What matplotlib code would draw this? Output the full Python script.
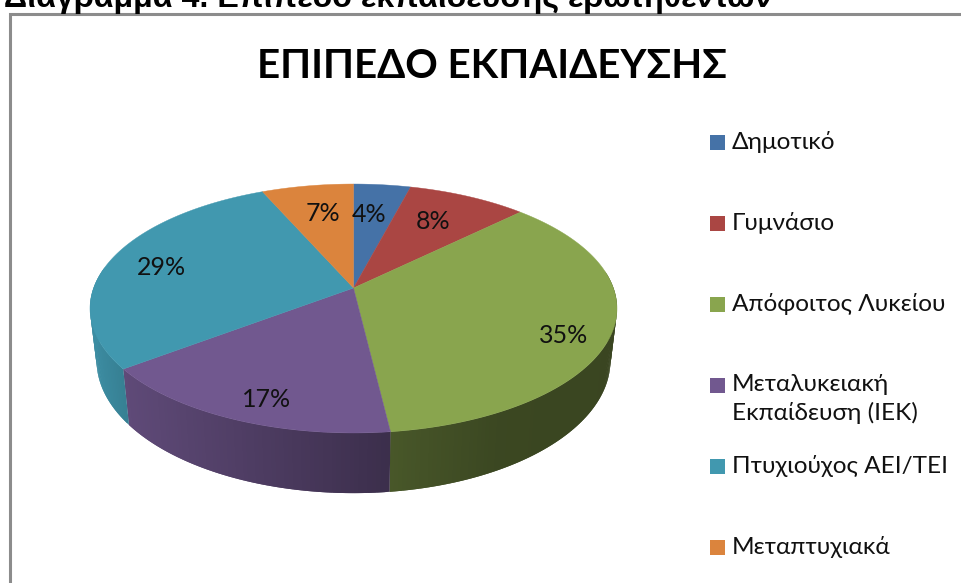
import numpy as np
import matplotlib
matplotlib.use("Agg")
import matplotlib.pyplot as plt
from matplotlib.patches import Rectangle

categories = ["Δημοτικό", "Γυμνάσιο", "Απόφοιτος Λυκείου",
              "Μεταλυκειακή\nΕκπαίδευση (ΙΕΚ)", "Πτυχιούχος ΑΕΙ/ΤΕΙ", "Μεταπτυχιακά"]
values = [4.1, 8.6, 35.4, 16.6, 28.7, 6.6]
value_labels = ["4%", "8%", "35%", "17%", "29%", "7%"]
colors = ["#4572A7", "#AA4643", "#89A54E", "#71588F", "#4198AF", "#DB843D"]
label_pos = [(369, 214.5), (433, 221.5), (564, 335.5), (267, 399.5), (161, 267.5), (323, 213.5)]

chart_title = "ΕΠΙΠΕΔΟ ΕΚΠΑΙΔΕΥΣΗΣ"
page_heading = "Διάγραμμα 4. Επίπεδο εκπαίδευσης ερωτηθέντων"

W, H = 961, 583
CX, CY = 353.5, 288.0
A_, B_, K_ = 259.9, 121.1, 0.1647
FAMILY = ["Lato", "Open Sans", "DejaVu Sans"]


def project(theta):
    u, v = np.sin(theta), np.cos(theta)
    d = 1 + K_ * v
    return A_ * u / d, B_ * v / d


def side_shade(X):
    return np.interp(X, [-264, -229, 37, 150, 264], [0.93, 0.84, 0.53, 0.43, 0.42])


def shaded(color, f):
    return tuple(np.array(matplotlib.colors.to_rgb(color)) * f)


fig = plt.figure(figsize=(W / 100, H / 100), dpi=100)
ax = fig.add_axes([0, 0, 1, 1])
ax.set_xlim(0, W)
ax.set_ylim(H, 0)
ax.axis("off")

# frame of the embedded chart
ax.plot([10, 10, W + 5], [H + 5, 13.5, 13.5], color="#8C8C8C", lw=2.2, solid_joinstyle="miter", zorder=1)

ax.text(4, 7.5, page_heading, family="Liberation Sans", weight="bold", fontsize=23.2,
        color="black", ha="left", va="baseline", zorder=2)
ax.text(492, 66, chart_title, family=FAMILY, weight="bold", fontsize=29,
        color="black", ha="center", va="center", zorder=2)

fractions = np.array(values) / np.sum(values)
edges = np.concatenate([[0], np.cumsum(fractions)]) * 2 * np.pi

# sides, strip by strip, each strip overlapping the next so no seams show
for i, col in enumerate(colors):
    t = np.linspace(edges[i], edges[i + 1], max(4, int((edges[i + 1] - edges[i]) * 70)))
    X, Y = project(t)
    xt, yt = CX + X, CY - Y
    xb, yb = CX + 0.975 * X, 1.065 * yt + 32
    for j in range(len(t) - 1):
        if np.cos(t[j]) > 0.15:
            continue
        k = min(j + 3, len(t))
        c = shaded(col, side_shade(X[j]))
        ax.fill(np.r_[xt[j:k], xb[j:k][::-1]], np.r_[yt[j:k], yb[j:k][::-1]],
                facecolor=c, edgecolor="none", zorder=3)

# top face
for i, col in enumerate(colors):
    t = np.linspace(edges[i], edges[i + 1], 150)
    X, Y = project(t)
    ax.fill(np.r_[CX, CX + X], np.r_[CY, CY - Y], facecolor=col, edgecolor=col, lw=0.3, zorder=4)

for (x, y), s in zip(label_pos, value_labels):
    ax.text(x, y, s, family=FAMILY, fontsize=18, color="#111111", ha="center", va="center", zorder=5)

# legend
legend_y = [142, 223, 304, 385, 466, 547]
for y, name, col in zip(legend_y, categories, colors):
    ax.add_patch(Rectangle((709.5, y - 7.5), 15, 15, facecolor=col, edgecolor="none", zorder=5))
    ax.text(732, y - 11, name, family=FAMILY, fontsize=17.6, color="#111111", ha="left", va="top",
            linespacing=1.36, zorder=5)

fig.savefig("out.png", dpi=100)
